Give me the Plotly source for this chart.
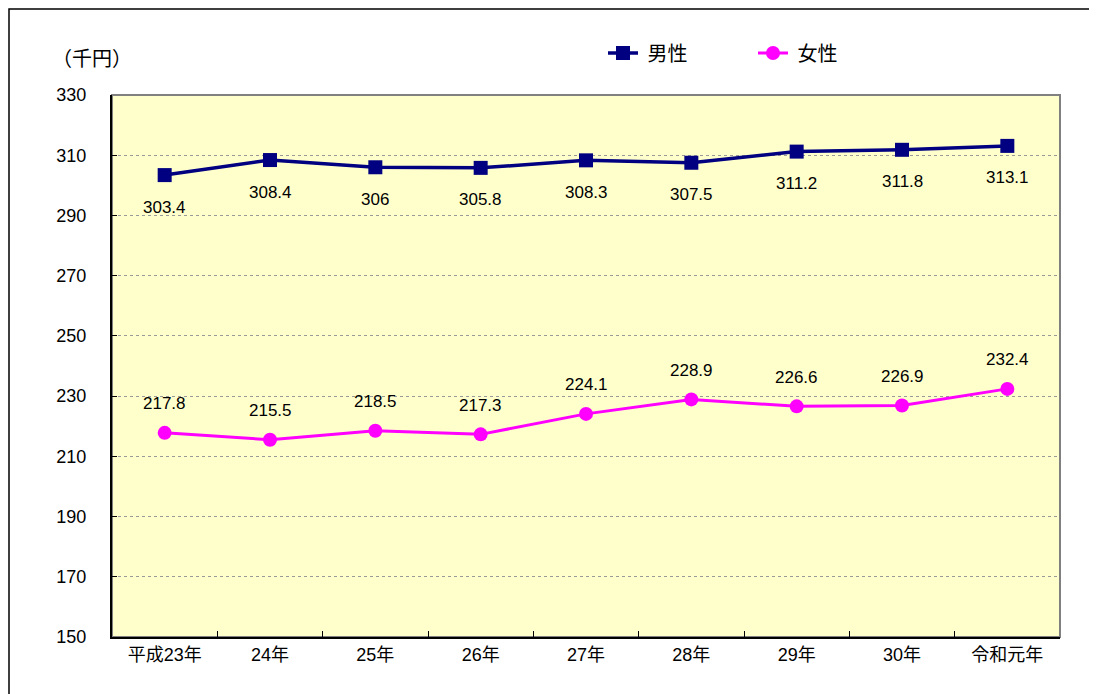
import plotly.graph_objects as go

categories = ["平成23年", "24年", "25年", "26年", "27年", "28年", "29年", "30年", "令和元年"]
male = [303.4, 308.4, 306, 305.8, 308.3, 307.5, 311.2, 311.8, 313.1]
female = [217.8, 215.5, 218.5, 217.3, 224.1, 228.9, 226.6, 226.9, 232.4]
male_labels = ["303.4", "308.4", "306", "305.8", "308.3", "307.5", "311.2", "311.8", "313.1"]
female_labels = ["217.8", "215.5", "218.5", "217.3", "224.1", "228.9", "226.6", "226.9", "232.4"]

# page body has an 8px margin; figure is placed at (8,8)
OFF = 8
W, H = 1097 - OFF, 694 - OFF
L, R, T, B = 112 - OFF, 37, 95 - OFF, 57
pw, ph = W - L - R, H - T - B
bottom = 637 - OFF  # plot bottom in fig px


def px_x(x):
    return (x - OFF - L) / pw


def px_y(y):
    return (bottom - (y - OFF)) / ph


FONT = "Liberation Sans, Noto Sans CJK JP, sans-serif"
JFONT = "Noto Sans CJK JP, sans-serif"

fig = go.Figure()
fig.add_trace(go.Scatter(x=categories, y=male, name=" 男性", mode="lines+markers",
                         line=dict(color="#000080", width=3.5),
                         marker=dict(symbol="square", size=14, color="#000080")))
fig.add_trace(go.Scatter(x=categories, y=female, name=" 女性", mode="lines+markers",
                         line=dict(color="#FF00FF", width=3),
                         marker=dict(symbol="circle", size=14, color="#FF00FF")))

for c, v, t in zip(categories, male, male_labels):
    fig.add_annotation(x=c, y=v, text=t, showarrow=False, yshift=-32,
                       font=dict(size=17, color="black", family=FONT))
for c, v, t in zip(categories, female, female_labels):
    fig.add_annotation(x=c, y=v, text=t, showarrow=False, yshift=29,
                       font=dict(size=17, color="black", family=FONT))

fig.add_annotation(xref="paper", yref="paper", x=px_x(50), y=px_y(58),
                   xanchor="left", yanchor="middle", text="（千円）", showarrow=False,
                   font=dict(size=20, color="black", family=JFONT))

# outer border (drawn at the figure edges)
fig.add_shape(type="rect", xref="paper", yref="paper",
              x0=px_x(OFF + 1), x1=px_x(1093), y0=px_y(700), y1=px_y(OFF + 1),
              line=dict(color="black", width=1.5), fillcolor="rgba(0,0,0,0)", layer="above")
# plot top/right gray border
fig.add_shape(type="rect", xref="paper", yref="paper", x0=0, x1=1, y0=0, y1=1,
              line=dict(color="#808080", width=2), fillcolor="rgba(0,0,0,0)", layer="below")

fig.update_layout(
    width=W, height=H,
    margin=dict(l=L, r=R, t=T, b=B),
    paper_bgcolor="white", plot_bgcolor="#FFFFCC",
    font=dict(family=FONT, size=17, color="black"),
    showlegend=True,
    legend=dict(orientation="h", x=px_x(603), y=px_y(53),
                xanchor="left", yanchor="middle", font=dict(size=20, family=JFONT),
                bgcolor="rgba(0,0,0,0)", entrywidth=105, entrywidthmode="pixels",
                tracegroupgap=0),
    xaxis=dict(type="category", showgrid=False, showline=True, linecolor="black", linewidth=2,
               ticks="inside", ticklen=6, tickcolor="black", tickson="boundaries",
               tickfont=dict(size=18), range=[-0.5, 8.5], fixedrange=True),
    yaxis=dict(range=[150, 330], dtick=20, tick0=150, showgrid=True, gridcolor="#999999",
               griddash="dot", gridwidth=1, showline=True, linecolor="black", linewidth=2,
               ticks="inside", ticklen=5, tickcolor="black", tickfont=dict(size=18),
               ticklabelstandoff=20, zeroline=False),
)

fig.write_html("out.html")
